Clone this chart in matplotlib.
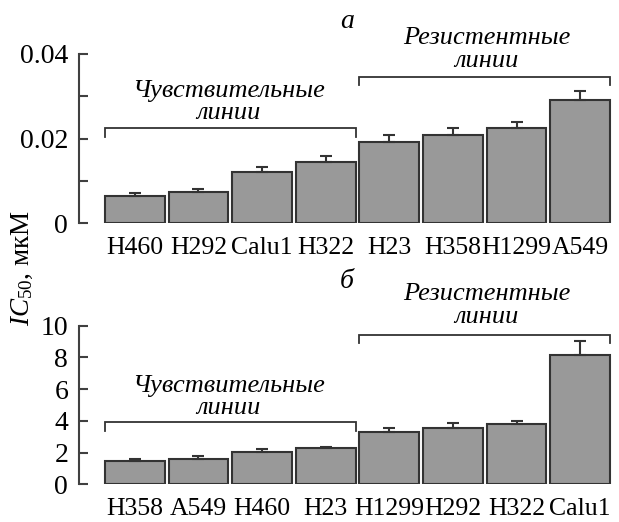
import matplotlib
matplotlib.use("Agg")
import matplotlib.pyplot as plt
import numpy as np

# panel а
cells_a = ['H460', 'H292', 'Calu1', 'H322', 'H23', 'H358', 'H1299', 'A549']
ic50_a = [0.0064, 0.0073, 0.0121, 0.0144, 0.0193, 0.0209, 0.0225, 0.0292]
err_a = [0.0008, 0.0007, 0.0011, 0.0016, 0.0015, 0.0015, 0.0014, 0.0020]

# panel б
cells_b = ['H358', 'A549', 'H460', 'H23', 'H1299', 'H292', 'H322', 'Calu1']
ic50_b = [1.47, 1.61, 2.01, 2.26, 3.27, 3.56, 3.80, 8.15]
err_b = [0.14, 0.15, 0.19, 0.11, 0.25, 0.30, 0.22, 0.88]

plt.rcParams['font.family'] = ['Liberation Serif', 'DejaVu Serif']
plt.rcParams['mathtext.fontset'] = 'custom'
plt.rcParams['mathtext.rm'] = 'Liberation Serif'
plt.rcParams['mathtext.it'] = 'Liberation Serif:italic'

edge = '#333333'
fig = plt.figure(figsize=(6.19, 5.22), dpi=100)
ax1 = fig.add_axes([0.1281, 0.5722, 0.8687, 0.3244])
ax2 = fig.add_axes([0.1281, 0.0722, 0.8687, 0.3038])

bw = 0.94


def draw_panel(ax, cells, vals, errs, ymax):
    x = np.arange(len(cells))
    ax.bar(x, vals, width=bw, color='#999999', edgecolor=edge, linewidth=1.5, zorder=2)
    ax.errorbar(x, vals, yerr=[np.zeros(len(vals)), errs], fmt='none', ecolor=edge,
                elinewidth=1.5, capsize=4, capthick=1.5, zorder=3)
    ax.set_xlim(-0.873, 7.58)
    ax.set_ylim(0, ymax)
    for s in ['top', 'right', 'bottom']:
        ax.spines[s].set_visible(False)
    ax.spines['left'].set_color('#404040')
    ax.spines['left'].set_linewidth(1.5)
    ax.set_xticks(x)
    ax.set_xticklabels(cells, fontsize=18.5)
    ax.tick_params(axis='x', length=0, pad=10)
    ax.tick_params(axis='y', which='both', direction='in', length=6.5, width=1.5,
                   color='#404040', labelsize=20, pad=8)


def bracket(ax, x0, x1, ytop, ydrop):
    ax.plot([x0, x0, x1, x1], [ydrop, ytop, ytop, ydrop], color=edge, lw=1.3,
            clip_on=False, solid_joinstyle='miter')


def group_label(ax, xc, y1, y2, t1, t2):
    ax.text(xc, y1, t1, ha='center', va='baseline', fontsize=19, style='italic')
    ax.text(xc, y2, t2, ha='center', va='baseline', fontsize=19, style='italic')


draw_panel(ax1, cells_a, ic50_a, err_a, 0.04)
ax1.set_yticks([0, 0.02, 0.04])
ax1.set_yticklabels(['0', '0.02', '0.04'])
ax1.set_yticks([0.01, 0.03], minor=True)
bracket(ax1, -bw / 2, 3 + bw / 2, 0.0224, 0.02046)
bracket(ax1, 4 - bw / 2, 7 + bw / 2, 0.03457, 0.03268)
group_label(ax1, 1.47, 0.02991, 0.02457, 'Чувствительные', 'линии')
group_label(ax1, 5.53, 0.04236, 0.03693, 'Резистентные', 'линии')
ax1.text(3.336, 0.0461, 'а', ha='center', va='baseline', fontsize=20, style='italic')

draw_panel(ax2, cells_b, ic50_b, err_b, 10)
ax2.set_yticks([0, 2, 4, 6, 8, 10])
bracket(ax2, -bw / 2, 3 + bw / 2, 3.91, 3.36)
bracket(ax2, 4 - bw / 2, 7 + bw / 2, 9.41, 8.89)
group_label(ax2, 1.47, 5.85, 4.43, 'Чувствительные', 'линии')
group_label(ax2, 5.53, 11.6, 10.15, 'Резистентные', 'линии')
ax2.text(3.336, 12.35, 'б', ha='center', va='baseline', fontsize=20, style='italic')

fig.text(0.0355, 0.4866, r'$IC_{\mathrm{50}}$, мкМ', rotation=90, ha='center',
         va='center', fontsize=19.5)

fig.savefig('out.png', dpi=100)
